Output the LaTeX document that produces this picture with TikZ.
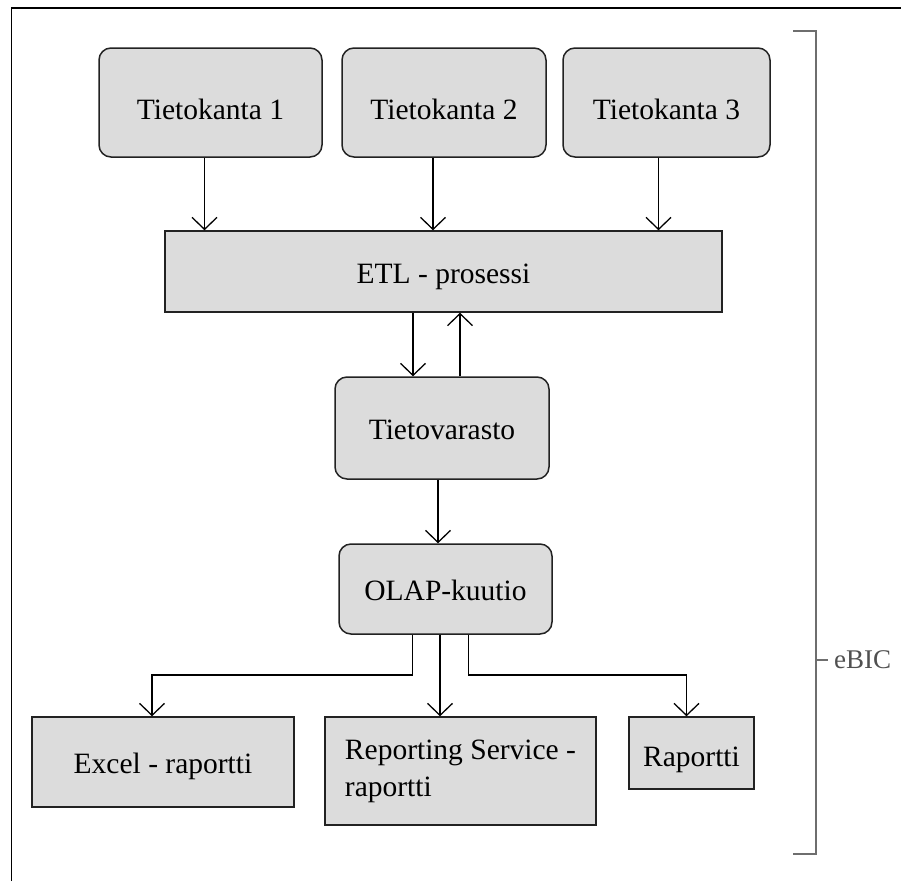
\documentclass[tikz,border=0pt]{standalone}
\usepackage{fontspec}
\setmainfont{Liberation Serif}
\usetikzlibrary{arrows.meta}
\definecolor{boxfill}{HTML}{DCDCDC}
\definecolor{boxline}{HTML}{222222}
\definecolor{bracketgray}{HTML}{6E6E6E}
\definecolor{labelgray}{HTML}{505050}
\begin{document}
\begin{tikzpicture}[x=1pt,y=-1pt,
  shapebase/.style={draw=boxline, fill=boxfill, line width=1.5pt, inner sep=0pt,
    font=\fontsize{29.5}{37}\selectfont},
  box/.style={shapebase, text height=23pt, text depth=0pt},
  rbox/.style={box, rounded corners=12pt},
  topbox/.style={rbox, text height=33pt},
  arr/.style={draw=black, line width=1.3pt,
    -{Straight Barb[length=12pt,width=25pt,line width=1.3pt]}},
  bracket/.style={draw=bracketgray, line width=2pt},
  frameline/.style={draw=black, line width=1.8pt}]
\useasboundingbox (0,0) rectangle (901,881);

% outer frame (top and left edges)
\draw[frameline] (11.5,881) -- (11.5,8) -- (901,8);

% source databases
\node[topbox, minimum width=223pt, minimum height=109pt] (t1) at (210.5,102.5) {Tietokanta 1};
\node[topbox, minimum width=204pt, minimum height=109pt] (t2) at (444,102.5) {Tietokanta 2};
\node[topbox, minimum width=207pt, minimum height=109pt] (t3) at (666.5,102.5) {Tietokanta 3};

% ETL process
\node[box, minimum width=557pt, minimum height=81pt] (etl) at (443.5,271.5) {ETL - prosessi};

% data warehouse and cube
\node[rbox, minimum width=214pt, minimum height=102pt] (tv) at (442,428) {Tietovarasto};
\node[rbox, minimum width=213pt, minimum height=90pt] (olap) at (445.5,589) {OLAP-kuutio};

% reports
\node[box, minimum width=262pt, minimum height=90pt] (excel) at (163,762) {Excel - raportti};
\node[shapebase, minimum width=271pt, minimum height=108pt, align=left] (rs) at (460.5,771) {Reporting Service -\\raportti};
\node[box, minimum width=125pt, minimum height=72pt, text height=26pt] (rap) at (691.5,753) {Raportti};

% databases into ETL
\draw[arr] ([xshift=-6pt]t1.south) -- ([xshift=-6pt]t1.south |- etl.north);
\draw[arr] ([xshift=-11pt]t2.south) -- ([xshift=-11pt]t2.south |- etl.north);
\draw[arr] ([xshift=-8pt]t3.south) -- ([xshift=-8pt]t3.south |- etl.north);

% ETL <-> warehouse
\draw[arr] ([xshift=-29pt]tv.north |- etl.south) -- ([xshift=-29pt]tv.north);
\draw[arr] ([xshift=18pt]tv.north) -- ([xshift=18pt]tv.north |- etl.south);

% warehouse into cube
\draw[arr] ([xshift=-4pt]tv.south) -- ([xshift=-4pt]tv.south |- olap.north);

% cube into reports
\coordinate (split) at (0,675);
\draw[arr] ([xshift=-33pt]olap.south) |- ([xshift=-11pt]excel.north |- split) -- ([xshift=-11pt]excel.north);
\draw[arr] ([xshift=-5.5pt]olap.south) -- ([xshift=-5.5pt]olap.south |- rs.north);
\draw[arr] ([xshift=23pt]olap.south) |- ([xshift=-5pt]rap.north |- split) -- ([xshift=-5pt]rap.north);

% system boundary bracket
\coordinate (btop) at (793,31);
\coordinate (bbot) at (793,854);
\coordinate (btick) at (816,660);
\draw[bracket] (btop) -- (816,31) -- (816,854) -- (bbot);
\draw[bracket] (btick) -- ++(12,0) node[anchor=west, inner sep=0pt, xshift=5pt, text=labelgray,
  font=\fontsize{27}{32}\selectfont] (ebic) {eBIC};
\end{tikzpicture}
\end{document}
